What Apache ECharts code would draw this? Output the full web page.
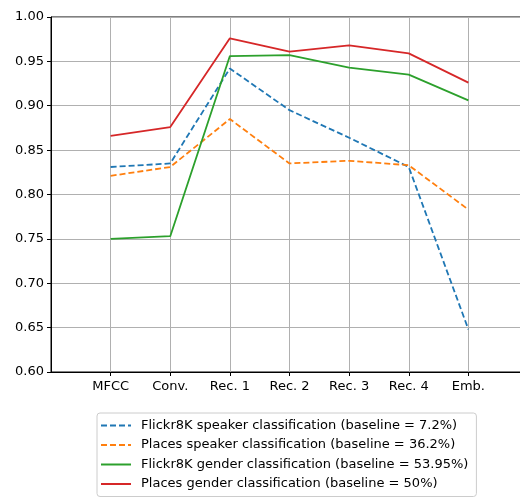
<!DOCTYPE html>
<html lang="en">
<head>
    <meta charset="UTF-8">
    <title>Classification accuracy per layer</title>
    <script src="https://cdn.jsdelivr.net/npm/echarts@6/dist/echarts.min.js"></script>
    <style>
        html, body { margin: 0; padding: 0; background: #fff; }
        #chart { width: 520px; height: 498px; }
    </style>
</head>
<body>
    <div id="chart"></div>
    <script>
        // layers on the x axis
        const layers = ['MFCC', 'Conv.', 'Rec. 1', 'Rec. 2', 'Rec. 3', 'Rec. 4', 'Emb.'];

        // accuracy per layer
        const flickrSpeaker = [0.831, 0.835, 0.942, 0.895, 0.864, 0.831, 0.648];
        const placesSpeaker = [0.821, 0.831, 0.885, 0.835, 0.838, 0.833, 0.783];
        const flickrGender = [0.750, 0.753, 0.956, 0.957, 0.943, 0.935, 0.906];
        const placesGender = [0.866, 0.876, 0.976, 0.961, 0.968, 0.959, 0.926];

        const yTicks = [0.60, 0.65, 0.70, 0.75, 0.80, 0.85, 0.90, 0.95, 1.00];

        const names = [
            'Flickr8K speaker classification (baseline = 7.2%)',
            'Places speaker classification (baseline = 36.2%)',
            'Flickr8K gender classification (baseline = 53.95%)',
            'Places gender classification (baseline = 50%)'
        ];
        const colors = ['#1f77b4', '#ff7f0e', '#2ca02c', '#d62728'];
        const dashed = [true, true, false, false];
        const values = [flickrSpeaker, placesSpeaker, flickrGender, placesGender];

        const font = 'DejaVu Sans';
        const chart = echarts.init(document.getElementById('chart'));

        const series = values.map(function (vals, k) {
            return {
                name: names[k],
                type: 'line',
                symbol: 'none',
                data: vals.map(function (v, i) { return [i, v]; }),
                lineStyle: {
                    color: colors[k],
                    width: 1.8,
                    type: dashed[k] ? [6, 3] : 'solid'
                },
                itemStyle: { color: colors[k] },
                z: 3 + k
            };
        });

        chart.setOption({
            animation: false,
            textStyle: { fontFamily: font },
            grid: {
                left: 51,
                top: 17,
                width: 477,
                height: 355,
                outerBoundsMode: 'none',
                show: true,
                borderColor: '#000',
                borderWidth: 1,
                backgroundColor: 'transparent'
            },
            xAxis: {
                type: 'value',
                min: -1,
                max: 7,
                interval: 1,
                axisLine: { show: true, onZero: false, lineStyle: { color: '#000', width: 1 } },
                axisTick: { show: true, inside: false, length: 4, lineStyle: { color: '#000' },
                    customValues: [0, 1, 2, 3, 4, 5, 6] },
                axisLabel: {
                    color: '#000', fontSize: 13, margin: 8, fontFamily: font,
                    customValues: [0, 1, 2, 3, 4, 5, 6],
                    formatter: function (v) { return layers[v] || ''; }
                },
                splitLine: { show: true, lineStyle: { color: '#b0b0b0', width: 1 } }
            },
            yAxis: {
                type: 'value',
                min: yTicks[0],
                max: yTicks[yTicks.length - 1],
                interval: 0.05,
                axisLine: { show: true, onZero: false, lineStyle: { color: '#000', width: 1 } },
                axisTick: { show: true, inside: false, length: 4, lineStyle: { color: '#000' } },
                axisLabel: {
                    color: '#000', fontSize: 13, margin: 7, fontFamily: font,
                    formatter: function (v) { return v.toFixed(2); }
                },
                splitLine: { show: true, lineStyle: { color: '#b0b0b0', width: 1 } }
            },
            legend: {
                orient: 'vertical',
                left: 97,
                top: 413,
                padding: [6, 8, 6, 3],
                itemGap: 6.5,
                itemWidth: 30,
                itemHeight: 14,
                borderColor: '#cccccc',
                borderWidth: 1,
                borderRadius: 3,
                backgroundColor: '#fff',
                itemStyle: { opacity: 0 },
                textStyle: { color: '#000', fontSize: 13, fontFamily: font, padding: [0, 0, 0, 5] },
                data: names
            },
            series: series
        });
    </script>
</body>
</html>
